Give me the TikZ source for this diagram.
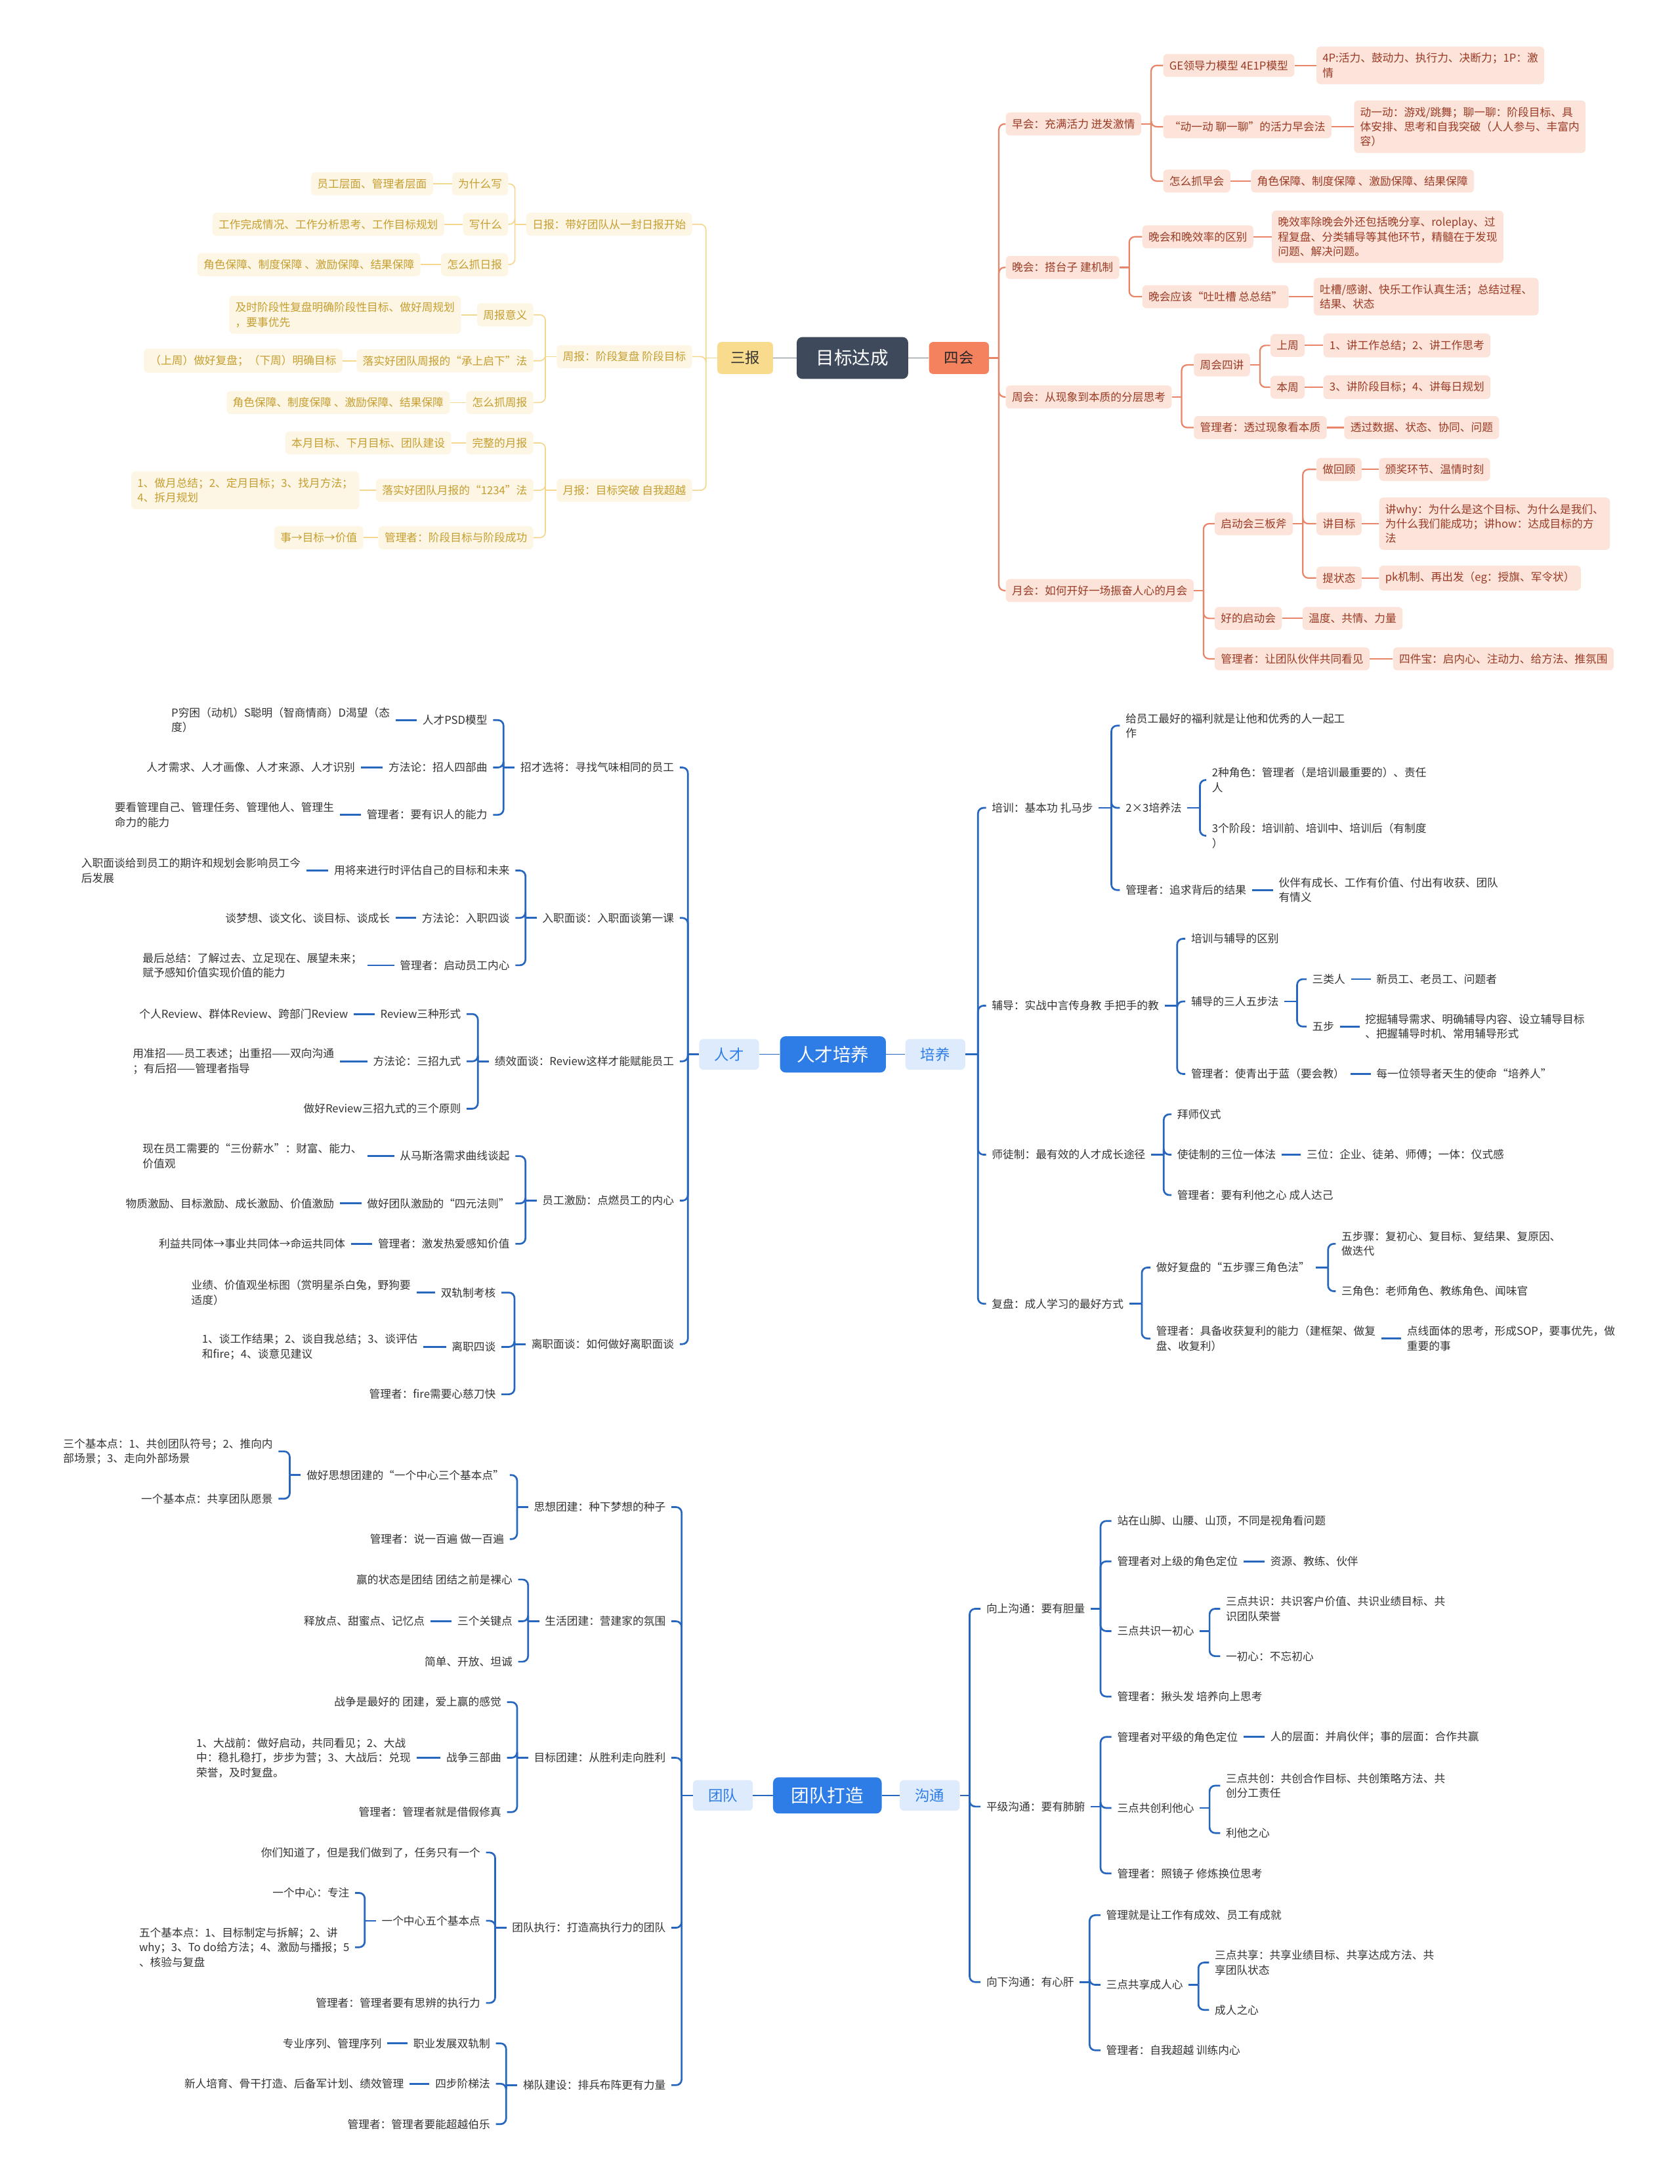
\documentclass[tikz,border=0pt]{standalone}
\usepackage{fontspec}
\setmainfont{Noto Sans CJK SC}
\definecolor{goalfill}{HTML}{3E4A5B}
\definecolor{ytext}{HTML}{C59E30}
\definecolor{yfill}{HTML}{FEF6E4}
\definecolor{yline}{HTML}{F4D68C}
\definecolor{sbfill}{HTML}{F9DB8D}
\definecolor{otext}{HTML}{9A3A24}
\definecolor{ofill}{HTML}{FCE4DB}
\definecolor{oline}{HTML}{E88468}
\definecolor{shfill}{HTML}{F4825E}
\definecolor{bmain}{HTML}{2E7CE6}
\definecolor{bsub}{HTML}{DDEBFC}
\definecolor{bline}{HTML}{2766BE}
\definecolor{btext}{HTML}{333333}

\begin{document}
\begin{tikzpicture}[x=0.5mm, y=-0.5mm,
    txt/.style={font=\fontsize{11.2}{15}\selectfont, align=left, inner xsep=2mm, inner ysep=1mm},
    ybox/.style={txt, fill=yfill, text=ytext, rounded corners=1.5mm, inner xsep=2.2mm, inner ysep=2.3mm},
    obox/.style={txt, fill=ofill, text=otext, rounded corners=1.5mm, inner xsep=2.2mm, inner ysep=2.3mm},
    btxt/.style={txt, text=btext},
    hub/.style={fill=goalfill, text=white, rounded corners=2mm, minimum width=40mm,
                minimum height=15mm, font=\fontsize{18.5}{20}\selectfont},
    bhub/.style={fill=bmain, text=white, rounded corners=2mm, minimum width=38mm,
                 minimum height=13mm, font=\fontsize{18.5}{20}\selectfont},
    sub/.style={rounded corners=1.5mm, minimum width=20mm, minimum height=11.5mm,
                font=\fontsize{15}{17}\selectfont},
    bsubn/.style={sub, fill=bsub, text=bmain, minimum width=21.5mm, minimum height=11mm},
    ylink/.style={yline, line width=1.1pt, rounded corners=2mm},
    olink/.style={oline, line width=1.5pt, rounded corners=2mm},
    blink/.style={bline, line width=1.8pt, rounded corners=2mm},
    glink/.style={goalfill!70, line width=1pt}
]
\path[fill=white, use as bounding box] (0,0) rectangle (1206,1568);

% ---------- 目标达成 ----------
\node[hub] (goal) at (612,257) {目标达成};
\node[sub, fill=sbfill, text=black!80] (sb) at (535,257) {三报};
\node[sub, fill=shfill, text=black!85, minimum width=21.5mm] (sh) at (688.5,257) {四会};
\draw[glink] (sb.east) -- (goal.west);
\draw[glink] (goal.east) -- (sh.west);

% 三报
\node[ybox, anchor=east] (rb) at (497,161) {日报：带好团队从一封日报开始};
\node[ybox, anchor=east] (zb) at (497,256) {周报：阶段复盘 阶段目标};
\node[ybox, anchor=east] (yb) at (497,352) {月报：目标突破 自我超越};

\node[ybox, anchor=east] (rb1) at (365,132) {为什么写};
\node[ybox, anchor=east] (rb2) at (365,161) {写什么};
\node[ybox, anchor=east] (rb3) at (365,190) {怎么抓日报};
\node[ybox, anchor=east] (rb1a) at (311,132) {员工层面、管理者层面};
\node[ybox, anchor=east] (rb2a) at (319,161) {工作完成情况、工作分析思考、工作目标规划};
\node[ybox, anchor=east] (rb3a) at (302,190) {角色保障、制度保障 、激励保障、结果保障};

\node[ybox, anchor=east] (zb1) at (383,226) {周报意义};
\node[ybox, anchor=east] (zb2) at (383,259) {落实好团队周报的“承上启下”法};
\node[ybox, anchor=east] (zb3) at (383,289) {怎么抓周报};
\node[ybox, anchor=east] (zb1a) at (331,226) {及时阶段性复盘明确阶段性目标、做好周规划\\，要事优先};
\node[ybox, anchor=east] (zb2a) at (246,259) {（上周）做好复盘；（下周）明确目标};
\node[ybox, anchor=east] (zb3a) at (323,289) {角色保障、制度保障 、激励保障、结果保障};

\node[ybox, anchor=east] (yb1) at (383,318) {完整的月报};
\node[ybox, anchor=east] (yb2) at (383,352) {落实好团队月报的“1234”法};
\node[ybox, anchor=east] (yb3) at (383,386) {管理者：阶段目标与阶段成功};
\node[ybox, anchor=east] (yb1a) at (324,318) {本月目标、下月目标、团队建设};
\node[ybox, anchor=east] (yb2a) at (258,352) {1、做月总结；2、定月目标；3、找月方法；\\4、拆月规划};
\node[ybox, anchor=east] (yb3a) at (261,386) {事→目标→价值};

\foreach \p/\l in {sb/{rb,zb,yb}, rb/{rb1,rb2,rb3}, zb/{zb1,zb2,zb3}, yb/{yb1,yb2,yb3}}{
  \draw[ylink] (\p.west) -- ++(-8,0);
  \foreach \c in \l \draw[ylink] (\p.west) ++(-8,0) |- (\c.east);
}
\foreach \a/\b in {rb1/rb1a, rb2/rb2a, rb3/rb3a, zb1/zb1a, zb2/zb2a, zb3/zb3a,
                   yb1/yb1a, yb2/yb2a, yb3/yb3a}
  \draw[ylink] (\a.west) -- (\b.east);

% 四会
\node[obox, anchor=west] (zh) at (722,89) {早会：充满活力 迸发激情};
\node[obox, anchor=west] (wh) at (722,192) {晚会：搭台子 建机制};
\node[obox, anchor=west] (zhou) at (722,285) {周会：从现象到本质的分层思考};
\node[obox, anchor=west] (yh) at (722,424) {月会：如何开好一场振奋人心的月会};

\node[obox, anchor=west] (zh1) at (835,47) {GE领导力模型 4E1P模型};
\node[obox, anchor=west] (zh2) at (835,91) {“动一动 聊一聊”的活力早会法};
\node[obox, anchor=west] (zh3) at (835,130) {怎么抓早会};
\node[obox, anchor=west] (zh1a) at (945,47) {4P:活力、鼓动力、执行力、决断力；1P：激\\情};
\node[obox, anchor=west] (zh2a) at (972,91) {动一动：游戏/跳舞；聊一聊：阶段目标、具\\体安排、思考和自我突破（人人参与、丰富内\\容）};
\node[obox, anchor=west] (zh3a) at (898,130) {角色保障、制度保障 、激励保障、结果保障};

\node[obox, anchor=west] (wh1) at (820,170) {晚会和晚效率的区别};
\node[obox, anchor=west] (wh2) at (820,213) {晚会应该“吐吐槽 总总结”};
\node[obox, anchor=west] (wh1a) at (913,170) {晚效率除晚会外还包括晚分享、roleplay、过\\程复盘、分类辅导等其他环节，精髓在于发现\\问题、解决问题。};
\node[obox, anchor=west] (wh2a) at (943,213) {吐槽/感谢、快乐工作认真生活；总结过程、\\结果、状态};

\node[obox, anchor=west] (zhou1) at (857,262) {周会四讲};
\node[obox, anchor=west] (zhou2) at (857,307) {管理者：透过现象看本质};
\node[obox, anchor=west] (zhou1a) at (912,248) {上周};
\node[obox, anchor=west] (zhou1b) at (912,278) {本周};
\node[obox, anchor=west] (zhou1a1) at (950,248) {1、讲工作总结；2、讲工作思考};
\node[obox, anchor=west] (zhou1b1) at (950,278) {3、讲阶段目标；4、讲每日规划};
\node[obox, anchor=west] (zhou2a) at (965,307) {透过数据、状态、协同、问题};

\node[obox, anchor=west] (yh1) at (872,376) {启动会三板斧};
\node[obox, anchor=west] (yh2) at (872,444) {好的启动会};
\node[obox, anchor=west] (yh3) at (872,473) {管理者：让团队伙伴共同看见};
\node[obox, anchor=west] (yh1a) at (945,337) {做回顾};
\node[obox, anchor=west] (yh1b) at (945,376) {讲目标};
\node[obox, anchor=west] (yh1c) at (945,415) {提状态};
\node[obox, anchor=west] (yh1a1) at (990,337) {颁奖环节、温情时刻};
\node[obox, anchor=west] (yh1b1) at (990,376) {讲why：为什么是这个目标、为什么是我们、\\为什么我们能成功；讲how：达成目标的方\\法};
\node[obox, anchor=west] (yh1c1) at (990,415) {pk机制、再出发（eg：授旗、军令状）};
\node[obox, anchor=west] (yh2a) at (935,444) {温度、共情、力量};
\node[obox, anchor=west] (yh3a) at (1000,473) {四件宝：启内心、注动力、给方法、推氛围};

\foreach \p/\l in {sh/{zh,wh,zhou,yh}, zh/{zh1,zh2,zh3}, wh/{wh1,wh2}, zhou/{zhou1,zhou2},
                   zhou1/{zhou1a,zhou1b}, yh/{yh1,yh2,yh3}, yh1/{yh1a,yh1b,yh1c}}{
  \draw[olink] (\p.east) -- ++(7,0);
  \foreach \c in \l \draw[olink] (\p.east) ++(7,0) |- (\c.west);
}
\foreach \a/\b in {zh1/zh1a, zh2/zh2a, zh3/zh3a, wh1/wh1a, wh2/wh2a, zhou1a/zhou1a1,
                   zhou1b/zhou1b1, zhou2/zhou2a, yh1a/yh1a1, yh1b/yh1b1, yh1c/yh1c1,
                   yh2/yh2a, yh3/yh3a}
  \draw[olink] (\a.east) -- (\b.west);

% ---------- 人才培养 ----------
\node[bhub] (rcpy) at (598,757) {人才培养};
\node[bsubn] (rc) at (523.5,757) {人才};
\node[bsubn] (py) at (671.5,757) {培养};
\draw[bline, line width=1pt] (rc.east) -- (rcpy.west);
\draw[bline, line width=1pt] (rcpy.east) -- (py.west);

% 人才
\node[btxt, anchor=east] (zc) at (488,551) {招才选将：寻找气味相同的员工};
\node[btxt, anchor=east] (rz) at (488,659) {入职面谈：入职面谈第一课};
\node[btxt, anchor=east] (jx) at (488,762) {绩效面谈：Review这样才能赋能员工};
\node[btxt, anchor=east] (jl) at (488,862) {员工激励：点燃员工的内心};
\node[btxt, anchor=east] (lz) at (488,965) {离职面谈：如何做好离职面谈};

\node[btxt, anchor=east] (zc1) at (354,517) {人才PSD模型};
\node[btxt, anchor=east] (zc2) at (354,551) {方法论：招人四部曲};
\node[btxt, anchor=east] (zc3) at (354,585) {管理者：要有识人的能力};
\node[btxt, anchor=east] (zc1a) at (284,517) {P穷困（动机）S聪明（智商情商）D渴望（态\\度）};
\node[btxt, anchor=east] (zc2a) at (259,551) {人才需求、人才画像、人才来源、人才识别};
\node[btxt, anchor=east] (zc3a) at (244,585) {要看管理自己、管理任务、管理他人、管理生\\命力的能力};

\node[btxt, anchor=east] (rz1) at (370,625) {用将来进行时评估自己的目标和未来};
\node[btxt, anchor=east] (rz2) at (370,659) {方法论：入职四谈};
\node[btxt, anchor=east] (rz3) at (370,693) {管理者：启动员工内心};
\node[btxt, anchor=east] (rz1a) at (220,625) {入职面谈给到员工的期许和规划会影响员工今\\后发展};
\node[btxt, anchor=east] (rz2a) at (284,659) {谈梦想、谈文化、谈目标、谈成长};
\node[btxt, anchor=east] (rz3a) at (264,693) {最后总结：了解过去、立足现在、展望未来；\\赋予感知价值实现价值的能力};

\node[btxt, anchor=east] (jx1) at (335,728) {Review三种形式};
\node[btxt, anchor=east] (jx2) at (335,762) {方法论：三招九式};
\node[btxt, anchor=east] (jx3) at (335,796) {做好Review三招九式的三个原则};
\node[btxt, anchor=east] (jx1a) at (254,728) {个人Review、群体Review、跨部门Review};
\node[btxt, anchor=east] (jx2a) at (244,762) {用准招——员工表述；出重招——双向沟通\\；有后招——管理者指导};

\node[btxt, anchor=east] (jl1) at (370,830) {从马斯洛需求曲线谈起};
\node[btxt, anchor=east] (jl2) at (370,864) {做好团队激励的“四元法则”};
\node[btxt, anchor=east] (jl3) at (370,893) {管理者：激发热爱感知价值};
\node[btxt, anchor=east] (jl1a) at (264,830) {现在员工需要的“三份薪水”：财富、能力、\\价值观};
\node[btxt, anchor=east] (jl2a) at (244,864) {物质激励、目标激励、成长激励、价值激励};
\node[btxt, anchor=east] (jl3a) at (252,893) {利益共同体→事业共同体→命运共同体};

\node[btxt, anchor=east] (lz1) at (360,928) {双轨制考核};
\node[btxt, anchor=east] (lz2) at (360,967) {离职四谈};
\node[btxt, anchor=east] (lz3) at (360,1001) {管理者：fire需要心慈刀快};
\node[btxt, anchor=east] (lz1a) at (299,928) {业绩、价值观坐标图（赏明星杀白兔，野狗要\\适度）};
\node[btxt, anchor=east] (lz2a) at (304,967) {1、谈工作结果；2、谈自我总结；3、谈评估\\和fire；4、谈意见建议};

\foreach \p/\l in {rc/{zc,rz,jx,jl,lz}, zc/{zc1,zc2,zc3}, rz/{rz1,rz2,rz3}, jx/{jx1,jx2,jx3},
                   jl/{jl1,jl2,jl3}, lz/{lz1,lz2,lz3}}{
  \draw[blink] (\p.west) -- ++(-8,0);
  \foreach \c in \l \draw[blink] (\p.west) ++(-8,0) |- (\c.east);
}
\foreach \a/\b in {zc1/zc1a, zc2/zc2a, zc3/zc3a, rz1/rz1a, rz2/rz2a, rz3/rz3a, jx1/jx1a,
                   jx2/jx2a, jl1/jl1a, jl2/jl2a, jl3/jl3a, lz1/lz1a, lz2/lz2a}
  \draw[blink] (\a.west) -- (\b.east);

% 培养
\node[btxt, anchor=west] (px) at (708,580) {培训：基本功 扎马步};
\node[btxt, anchor=west] (fd) at (708,722) {辅导：实战中言传身教 手把手的教};
\node[btxt, anchor=west] (st) at (708,829) {师徒制：最有效的人才成长途径};
\node[btxt, anchor=west] (fp) at (708,936) {复盘：成人学习的最好方式};

\node[btxt, anchor=west] (px1) at (804,521) {给员工最好的福利就是让他和优秀的人一起工\\作};
\node[btxt, anchor=west] (px2) at (804,580) {2×3培养法};
\node[btxt, anchor=west] (px3) at (804,639) {管理者：追求背后的结果};
\node[btxt, anchor=west] (px2a) at (866,560) {2种角色：管理者（是培训最重要的）、责任\\人};
\node[btxt, anchor=west] (px2b) at (866,600) {3个阶段：培训前、培训中、培训后（有制度\\）};
\node[btxt, anchor=west] (px3a) at (914,639) {伙伴有成长、工作有价值、付出有收获、团队\\有情义};

\node[btxt, anchor=west] (fd1) at (851,674) {培训与辅导的区别};
\node[btxt, anchor=west] (fd2) at (851,719) {辅导的三人五步法};
\node[btxt, anchor=west] (fd3) at (851,771) {管理者：使青出于蓝（要会教）};
\node[btxt, anchor=west] (fd2a) at (938,703) {三类人};
\node[btxt, anchor=west] (fd2b) at (938,737) {五步};
\node[btxt, anchor=west] (fd2a1) at (984,703) {新员工、老员工、问题者};
\node[btxt, anchor=west] (fd2b1) at (976,737) {挖掘辅导需求、明确辅导内容、设立辅导目标\\、把握辅导时机、常用辅导形式};
\node[btxt, anchor=west] (fd3a) at (984,771) {每一位领导者天生的使命“培养人”};

\node[btxt, anchor=west] (st1) at (841,800) {拜师仪式};
\node[btxt, anchor=west] (st2) at (841,829) {使徒制的三位一体法};
\node[btxt, anchor=west] (st3) at (841,858) {管理者：要有利他之心 成人达己};
\node[btxt, anchor=west] (st2a) at (934,829) {三位：企业、徒弟、师傅；一体：仪式感};

\node[btxt, anchor=west] (fp1) at (826,910) {做好复盘的“五步骤三角色法”};
\node[btxt, anchor=west] (fp2) at (826,961) {管理者：具备收获复利的能力（建框架、做复\\盘、收复利）};
\node[btxt, anchor=west] (fp1a) at (959,893) {五步骤：复初心、复目标、复结果、复原因、\\做迭代};
\node[btxt, anchor=west] (fp1b) at (959,927) {三角色：老师角色、教练角色、闻味官};
\node[btxt, anchor=west] (fp2a) at (1006,961) {点线面体的思考，形成SOP，要事优先，做\\重要的事};

\foreach \p/\l in {py/{px,fd,st,fp}, px/{px1,px2,px3}, px2/{px2a,px2b}, fd/{fd1,fd2,fd3},
                   fd2/{fd2a,fd2b}, st/{st1,st2,st3}, fp/{fp1,fp2}, fp1/{fp1a,fp1b}}{
  \draw[blink] (\p.east) -- ++(9,0);
  \foreach \c in \l \draw[blink] (\p.east) ++(9,0) |- (\c.west);
}
\foreach \a/\b in {px3/px3a, fd2a/fd2a1, fd2b/fd2b1, fd3/fd3a, st2/st2a, fp2/fp2a}
  \draw[blink] (\a.east) -- (\b.west);

% ---------- 团队打造 ----------
\node[bhub, minimum width=39mm] (tddz) at (594,1289) {团队打造};
\node[bsubn] (td) at (519,1289) {团队};
\node[bsubn] (gt) at (667.5,1289) {沟通};
\draw[bline, line width=1pt] (td.east) -- (tddz.west);
\draw[bline, line width=1pt] (tddz.east) -- (gt.west);

% 团队
\node[btxt, anchor=east] (sx) at (482,1082) {思想团建：种下梦想的种子};
\node[btxt, anchor=east] (shtj) at (482,1164) {生活团建：营建家的氛围};
\node[btxt, anchor=east] (mb) at (482,1262) {目标团建：从胜利走向胜利};
\node[btxt, anchor=east] (zx) at (482,1384) {团队执行：打造高执行力的团队};
\node[btxt, anchor=east] (tdjs) at (482,1497) {梯队建设：排兵布阵更有力量};

\node[btxt, anchor=east] (sx1) at (366,1059) {做好思想团建的“一个中心三个基本点”};
\node[btxt, anchor=east] (sx2) at (366,1105) {管理者：说一百遍 做一百遍};
\node[btxt, anchor=east] (sx1a) at (200,1042) {三个基本点：1、共创团队符号；2、推向内\\部场景；3、走向外部场景};
\node[btxt, anchor=east] (sx1b) at (200,1076) {一个基本点：共享团队愿景};

\node[btxt, anchor=east] (shtj1) at (372,1134) {赢的状态是团结 团结之前是裸心};
\node[btxt, anchor=east] (shtj2) at (372,1164) {三个关键点};
\node[btxt, anchor=east] (shtj3) at (372,1193) {简单、开放、坦诚};
\node[btxt, anchor=east] (shtj2a) at (309,1164) {释放点、甜蜜点、记忆点};

\node[btxt, anchor=east] (mb1) at (364,1222) {战争是最好的 团建，爱上赢的感觉};
\node[btxt, anchor=east] (mb2) at (364,1262) {战争三部曲};
\node[btxt, anchor=east] (mb3) at (364,1301) {管理者：管理者就是借假修真};
\node[btxt, anchor=east] (mb2a) at (299,1262) {1、大战前：做好启动，共同看见；2、大战\\中：稳扎稳打，步步为营；3、大战后：兑现\\荣誉，及时复盘。};

\node[btxt, anchor=east] (zx1) at (349,1330) {你们知道了，但是我们做到了，任务只有一个};
\node[btxt, anchor=east] (zx2) at (349,1379) {一个中心五个基本点};
\node[btxt, anchor=east] (zx3) at (349,1438) {管理者：管理者要有思辨的执行力};
\node[btxt, anchor=east] (zx2a) at (255,1359) {一个中心：专注};
\node[btxt, anchor=east] (zx2b) at (255,1398) {五个基本点：1、目标制定与拆解；2、讲\\why；3、To do给方法；4、激励与播报；5\\、核验与复盘};

\node[btxt, anchor=east] (tdjs1) at (356,1467) {职业发展双轨制};
\node[btxt, anchor=east] (tdjs2) at (356,1496) {四步阶梯法};
\node[btxt, anchor=east] (tdjs3) at (356,1525) {管理者：管理者要能超越伯乐};
\node[btxt, anchor=east] (tdjs1a) at (278,1467) {专业序列、管理序列};
\node[btxt, anchor=east] (tdjs2a) at (294,1496) {新人培育、骨干打造、后备军计划、绩效管理};

\foreach \p/\l in {td/{sx,shtj,mb,zx,tdjs}, sx/{sx1,sx2}, sx1/{sx1a,sx1b}, shtj/{shtj1,shtj2,shtj3},
                   mb/{mb1,mb2,mb3}, zx/{zx1,zx2,zx3}, zx2/{zx2a,zx2b}, tdjs/{tdjs1,tdjs2,tdjs3}}{
  \draw[blink] (\p.west) -- ++(-8,0);
  \foreach \c in \l \draw[blink] (\p.west) ++(-8,0) |- (\c.east);
}
\foreach \a/\b in {shtj2/shtj2a, mb2/mb2a, tdjs1/tdjs1a, tdjs2/tdjs2a}
  \draw[blink] (\a.west) -- (\b.east);

% 沟通
\node[btxt, anchor=west] (xs) at (704,1155) {向上沟通：要有胆量};
\node[btxt, anchor=west] (pj) at (704,1297) {平级沟通：要有肺腑};
\node[btxt, anchor=west] (xx) at (704,1423) {向下沟通：有心肝};

\node[btxt, anchor=west] (xs1) at (798,1092) {站在山脚、山腰、山顶，不同是视角看问题};
\node[btxt, anchor=west] (xs2) at (798,1121) {管理者对上级的角色定位};
\node[btxt, anchor=west] (xs3) at (798,1171) {三点共识一初心};
\node[btxt, anchor=west] (xs4) at (798,1218) {管理者：揪头发 培养向上思考};
\node[btxt, anchor=west] (xs2a) at (908,1121) {资源、教练、伙伴};
\node[btxt, anchor=west] (xs3a) at (876,1155) {三点共识：共识客户价值、共识业绩目标、共\\识团队荣誉};
\node[btxt, anchor=west] (xs3b) at (876,1189) {一初心：不忘初心};

\node[btxt, anchor=west] (pj1) at (798,1247) {管理者对平级的角色定位};
\node[btxt, anchor=west] (pj2) at (798,1298) {三点共创利他心};
\node[btxt, anchor=west] (pj3) at (798,1345) {管理者：照镜子 修炼换位思考};
\node[btxt, anchor=west] (pj1a) at (908,1247) {人的层面：并肩伙伴；事的层面：合作共赢};
\node[btxt, anchor=west] (pj2a) at (876,1282) {三点共创：共创合作目标、共创策略方法、共\\创分工责任};
\node[btxt, anchor=west] (pj2b) at (876,1316) {利他之心};

\node[btxt, anchor=west] (xx1) at (790,1375) {管理就是让工作有成效、员工有成就};
\node[btxt, anchor=west] (xx2) at (790,1425) {三点共享成人心};
\node[btxt, anchor=west] (xx3) at (790,1472) {管理者：自我超越 训练内心};
\node[btxt, anchor=west] (xx2a) at (868,1409) {三点共享：共享业绩目标、共享达成方法、共\\享团队状态};
\node[btxt, anchor=west] (xx2b) at (868,1443) {成人之心};

\foreach \p/\l in {gt/{xs,pj,xx}, xs/{xs1,xs2,xs3,xs4}, xs3/{xs3a,xs3b}, pj/{pj1,pj2,pj3},
                   pj2/{pj2a,pj2b}, xx/{xx1,xx2,xx3}, xx2/{xx2a,xx2b}}{
  \draw[blink] (\p.east) -- ++(7,0);
  \foreach \c in \l \draw[blink] (\p.east) ++(7,0) |- (\c.west);
}
\foreach \a/\b in {xs2/xs2a, pj1/pj1a}
  \draw[blink] (\a.east) -- (\b.west);
\end{tikzpicture}
\end{document}
